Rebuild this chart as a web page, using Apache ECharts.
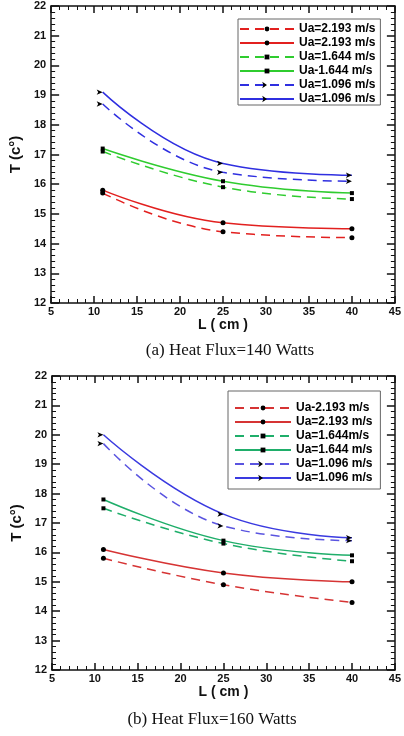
<!DOCTYPE html>
<html>
<head>
<meta charset="utf-8">
<script src="https://cdn.jsdelivr.net/npm/echarts@6/dist/echarts.min.js"></script>
<style>
  html, body { margin: 0; padding: 0; background: #fff; }
  #chart { width: 404px; height: 736px; }
</style>
</head>
<body>
<div id="chart"></div>
<script>
// x positions (cm)
const lengths = [11, 25, 40]

// legend labels, as printed on each panel
const labelsA = ['Ua=2.193 m/s', 'Ua=2.193 m/s', 'Ua=1.644 m/s', 'Ua-1.644 m/s', 'Ua=1.096 m/s', 'Ua=1.096 m/s']
const labelsB = ['Ua-2.193 m/s', 'Ua=2.193 m/s', 'Ua=1.644m/s', 'Ua=1.644 m/s', 'Ua=1.096 m/s', 'Ua=1.096 m/s']

// temperatures (a) heat flux 140 W
const tempA = [
  [15.7, 14.4, 14.2],
  [15.8, 14.7, 14.5],
  [17.1, 15.9, 15.5],
  [17.2, 16.1, 15.7],
  [18.7, 16.4, 16.1],
  [19.1, 16.7, 16.3]
]
// temperatures (b) heat flux 160 W
const tempB = [
  [15.8, 14.9, 14.3],
  [16.1, 15.3, 15.0],
  [17.5, 16.3, 15.7],
  [17.8, 16.4, 15.9],
  [19.7, 16.9, 16.4],
  [20.0, 17.3, 16.5]
]

const captions = ['(a) Heat Flux=140 Watts', '(b) Heat Flux=160 Watts']

const colorsA = ['#e2201f', '#e2201f', '#2fcc2f', '#2fcc2f', '#2f2fe0', '#2f2fe0']
const colorsB = ['#d63434', '#d63434', '#1fae6a', '#1fae6a', '#5a54e0', '#3a3ae0']
const dashed = [true, false, true, false, true, false]
const symbols = ['circle', 'circle', 'rect', 'rect', 'arrow', 'arrow']
const symbolSizes = [5, 5, 4, 4, [4, 6], [4, 6]]

const chart = echarts.init(document.getElementById('chart'), null, { renderer: 'canvas' })

const font = 'Liberation Sans, Arial, sans-serif'

const grids = [
  { left: 49, top: 6, width: 347, height: 297 },
  { left: 52, top: 376, width: 345, height: 294 }
]

function xAxes(gi) {
  return [
    {
      gridIndex: gi, type: 'value', min: 5, max: 45, interval: 5, position: 'bottom',
      name: 'L ( cm )', nameLocation: 'middle', nameGap: 13,
      nameTextStyle: { color: '#111', fontFamily: font, fontWeight: 'bold', fontSize: 14 },
      axisLine: { onZero: false, lineStyle: { color: '#111', width: 1.5 } },
      axisTick: { inside: true, length: 7, lineStyle: { color: '#111', width: 1.5 } },
      minorTick: { show: true, splitNumber: 5, length: 4, lineStyle: { color: '#111' } },
      axisLabel: { color: '#111', fontFamily: font, fontSize: 11, fontWeight: 'bold', margin: 3 },
      splitLine: { show: false }
    },
    {
      gridIndex: gi, type: 'value', min: 5, max: 45, interval: 5, position: 'top',
      axisLine: { onZero: false, lineStyle: { color: '#111', width: 1.5 } },
      axisTick: { inside: true, length: 7, lineStyle: { color: '#111', width: 1.5 } },
      minorTick: { show: true, splitNumber: 5, length: 4, lineStyle: { color: '#111' } },
      axisLabel: { show: false },
      splitLine: { show: false }
    }
  ]
}

function yAxes(gi) {
  return [
    {
      gridIndex: gi, type: 'value', min: 12, max: 22, interval: 1, position: 'left',
      name: 'T (c°)', nameLocation: 'middle', nameGap: 24, nameRotate: 90,
      nameTextStyle: { color: '#111', fontFamily: font, fontWeight: 'bold', fontSize: 15 },
      axisLine: { onZero: false, lineStyle: { color: '#111', width: 1.5 } },
      axisTick: { inside: true, length: 8, lineStyle: { color: '#111', width: 1.5 } },
      minorTick: { show: true, splitNumber: 5, length: 4, lineStyle: { color: '#111' } },
      axisLabel: { color: '#111', fontFamily: font, fontSize: 11, fontWeight: 'bold', margin: 5 },
      splitLine: { show: false }
    },
    {
      gridIndex: gi, type: 'value', min: 12, max: 22, interval: 1, position: 'right',
      axisLine: { onZero: false, lineStyle: { color: '#111', width: 1.5 } },
      axisTick: { inside: true, length: 8, lineStyle: { color: '#111', width: 1.5 } },
      minorTick: { show: true, splitNumber: 5, length: 4, lineStyle: { color: '#111' } },
      axisLabel: { show: false },
      splitLine: { show: false }
    }
  ]
}

function makeSeries(gi, temps, colors, prefix) {
  return temps.map((vals, i) => ({
    name: prefix + i,
    type: 'line',
    xAxisIndex: gi * 2,
    yAxisIndex: gi * 2,
    data: lengths.map((x, k) => [x, vals[k]]),
    smooth: 0.45,
    symbol: symbols[i],
    symbolSize: symbolSizes[i],
    symbolRotate: symbols[i] === 'arrow' ? -90 : 0,
    showAllSymbol: true,
    itemStyle: { color: '#000' },
    lineStyle: { color: colors[i], width: 1.5, type: dashed[i] ? [9, 6] : 'solid' },
    z: 3
  }))
}

const seriesA = makeSeries(0, tempA, colorsA, 'a')
const seriesB = makeSeries(1, tempB, colorsB, 'b')

const legendText = { color: '#000', fontFamily: font, fontWeight: 'bold', fontSize: 12, lineHeight: 10 }

const option = {
  backgroundColor: '#fff',
  animation: false,
  grid: grids,
  xAxis: [...xAxes(0), ...xAxes(1)],
  yAxis: [...yAxes(0), ...yAxes(1)],
  title: [
    {
      text: captions[0], left: 225, top: 337, textAlign: 'center',
      textStyle: { fontFamily: 'Liberation Serif, Times New Roman, serif', fontWeight: 'normal', fontSize: 17, color: '#111' }
    },
    {
      text: captions[1], left: 207, top: 706, textAlign: 'center',
      textStyle: { fontFamily: 'Liberation Serif, Times New Roman, serif', fontWeight: 'normal', fontSize: 17, color: '#111' }
    }
  ],
  legend: [
    {
      data: seriesA.map(s => s.name),
      formatter: name => labelsA[+name.slice(1)],
      orient: 'vertical', left: 238, top: 19,
      itemWidth: 54, itemHeight: 6, itemGap: 2,
      padding: [4, 5, 0, 1],
      backgroundColor: '#fff', borderColor: '#666', borderWidth: 1,
      textStyle: legendText,
      selectedMode: false
    },
    {
      data: seriesB.map(s => s.name),
      formatter: name => labelsB[+name.slice(1)],
      orient: 'vertical', left: 228, top: 391,
      itemWidth: 56, itemHeight: 6, itemGap: 2,
      padding: [11, 8, 5, 6],
      backgroundColor: '#fff', borderColor: '#666', borderWidth: 1,
      textStyle: legendText,
      selectedMode: false
    }
  ],
  series: [...seriesA, ...seriesB]
}

chart.setOption(option)
</script>
</body>
</html>
